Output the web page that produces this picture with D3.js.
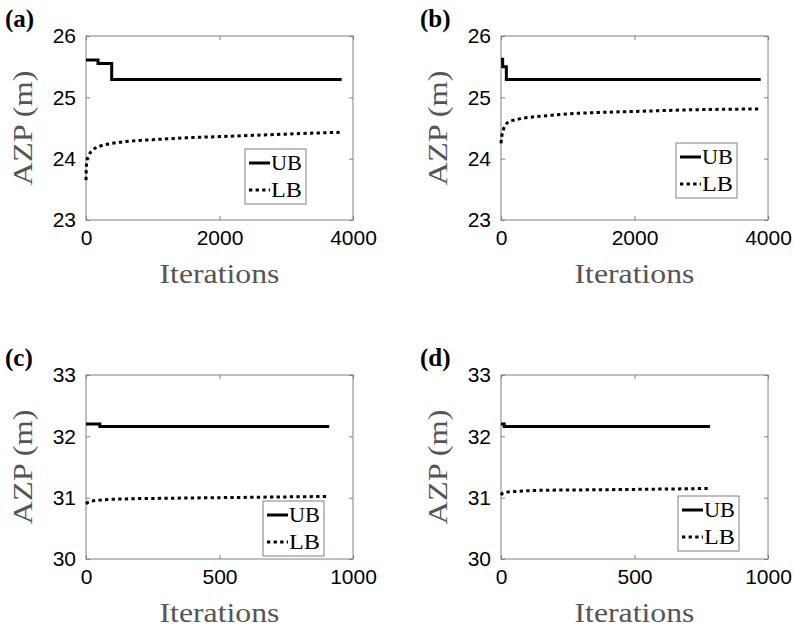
<!DOCTYPE html>
<html>
<head>
<meta charset="utf-8">
<script src="https://cdn.jsdelivr.net/npm/d3@7"></script>
<style>
  body { margin: 0; background: #fff; }
  svg { display: block; }
</style>
</head>
<body>
<div id="chart"></div>
<script>
// panel labels and axis ranges
var panelLabels = ["(a)", "(b)", "(c)", "(d)"];
var xDomains = [[0, 4000], [0, 4000], [0, 1000], [0, 1000]];
var yDomains = [[23, 26], [23, 26], [30, 33], [30, 33]];
var xTickValues = [[0, 2000, 4000], [0, 2000, 4000], [0, 500, 1000], [0, 500, 1000]];
var yTickValues = [[23, 24, 25, 26], [23, 24, 25, 26], [30, 31, 32, 33], [30, 31, 32, 33]];
var seriesNames = ["UB", "LB"];

// upper bound (step curves)
var ubIterA = [0, 180, 385, 3830];
var ubValA = [25.61, 25.55, 25.29, 25.29];
var ubIterB = [0, 25, 80, 3890];
var ubValB = [25.62, 25.5, 25.29, 25.29];
var ubIterC = [0, 52, 911];
var ubValC = [32.2, 32.16, 32.16];
var ubIterD = [0, 12, 783];
var ubValD = [32.2, 32.16, 32.16];

// lower bound
var lbIterA = [0, 10, 40, 90, 200, 400, 700, 1000, 1500, 2000, 2500, 3000, 3500, 3830];
var lbValA = [23.65, 23.95, 24.05, 24.13, 24.2, 24.25, 24.29, 24.31, 24.34, 24.36, 24.38, 24.4, 24.42, 24.43];
var lbIterB = [0, 10, 35, 70, 110, 200, 335, 685, 1000, 1400, 2000, 3000, 3890];
var lbValB = [24.25, 24.35, 24.47, 24.55, 24.6, 24.63, 24.66, 24.7, 24.73, 24.75, 24.77, 24.8, 24.81];
var lbIterC = [0, 10, 50, 150, 300, 500, 700, 911];
var lbValC = [30.9, 30.93, 30.96, 30.98, 30.99, 31.0, 31.01, 31.02];
var lbIterD = [0, 5, 20, 50, 150, 400, 783];
var lbValD = [31.04, 31.07, 31.09, 31.1, 31.12, 31.13, 31.15];

var ubIters = [ubIterA, ubIterB, ubIterC, ubIterD];
var ubVals = [ubValA, ubValB, ubValC, ubValD];
var lbIters = [lbIterA, lbIterB, lbIterC, lbIterD];
var lbVals = [lbValA, lbValB, lbValC, lbValD];

// layout
var svgWidth = 794, svgHeight = 628;
var plotW = 267, plotH = 184;
var panelLeft = [86, 501, 86, 501];
var panelTop = [36, 36, 375, 375];
var legendPos = [[159, 113], [175, 107], [177, 126], [177, 121]];

var axisColor = "#808080";
var labelColor = "#555";
var dotted = "3.3,3.3";

var svg = d3.select("#chart")
    .append("svg")
    .attr("width", svgWidth)
    .attr("height", svgHeight);

svg.append("rect").attr("width", svgWidth).attr("height", svgHeight).attr("fill", "#fff");

panelLabels.forEach(function(label, i) {
    var g = svg.append("g")
        .attr("transform", `translate(${panelLeft[i]}, ${panelTop[i]})`);

    var x = d3.scaleLinear().domain(xDomains[i]).range([0, plotW]);
    var y = d3.scaleLinear().domain(yDomains[i]).range([plotH, 0]);

    // box
    g.append("rect")
        .attr("width", plotW).attr("height", plotH)
        .attr("fill", "none").attr("stroke", axisColor).attr("stroke-width", 1);

    // ticks inward on all sides, labels on bottom/left
    var bottomAxis = d3.axisBottom(x).tickValues(xTickValues[i]).tickSize(-4).tickPadding(10).tickFormat(d3.format("d"));
    var topAxis = d3.axisTop(x).tickValues(xTickValues[i]).tickSize(-4).tickFormat("");
    var leftAxis = d3.axisLeft(y).tickValues(yTickValues[i]).tickSize(-4).tickPadding(10).tickFormat(d3.format("d"));
    var rightAxis = d3.axisRight(y).tickValues(yTickValues[i]).tickSize(-4).tickFormat("");

    var axes = [
        g.append("g").attr("transform", `translate(0, ${plotH})`).call(bottomAxis),
        g.append("g").call(topAxis),
        g.append("g").call(leftAxis),
        g.append("g").attr("transform", `translate(${plotW}, 0)`).call(rightAxis)
    ];
    axes.forEach(function(a) {
        a.select(".domain").remove();
        a.selectAll(".tick line").attr("stroke", axisColor);
        a.selectAll(".tick text")
            .attr("fill", "#000")
            .style("font-family", "'Liberation Sans', Arial, sans-serif")
            .style("font-size", "21px");
    });

    // lines
    var ubData = ubIters[i].map(function(it, k) { return [it, ubVals[i][k]]; });
    var lbData = lbIters[i].map(function(it, k) { return [it, lbVals[i][k]]; });

    var ubLine = d3.line().x(d => x(d[0])).y(d => y(d[1])).curve(d3.curveStepAfter);
    var lbLine = d3.line().x(d => x(d[0])).y(d => y(d[1])).curve(d3.curveMonotoneX);

    g.append("path").datum(ubData)
        .attr("d", ubLine)
        .attr("fill", "none").attr("stroke", "#000").attr("stroke-width", 3);

    g.append("path").datum(lbData)
        .attr("d", lbLine)
        .attr("fill", "none").attr("stroke", "#000").attr("stroke-width", 3)
        .attr("stroke-dasharray", dotted);

    // axis labels
    g.append("text")
        .attr("x", plotW / 2).attr("y", plotH + 63)
        .attr("text-anchor", "middle")
        .attr("fill", labelColor)
        .attr("textLength", 120).attr("lengthAdjust", "spacingAndGlyphs")
        .style("font-family", "'Liberation Serif', 'Times New Roman', serif")
        .style("font-size", "28px")
        .text("Iterations");

    g.append("text")
        .attr("transform", `translate(-54, ${plotH / 2}) rotate(-90)`)
        .attr("text-anchor", "middle")
        .attr("fill", labelColor)
        .attr("textLength", 115).attr("lengthAdjust", "spacingAndGlyphs")
        .style("font-family", "'Liberation Serif', 'Times New Roman', serif")
        .style("font-size", "28px")
        .text("AZP (m)");

    // panel letter
    g.append("text")
        .attr("x", -81).attr("y", -9)
        .attr("fill", "#000")
        .style("font-family", "'Liberation Serif', 'Times New Roman', serif")
        .style("font-size", "25px")
        .style("font-weight", "bold")
        .text(label);

    // legend
    var lg = g.append("g")
        .attr("transform", `translate(${legendPos[i][0]}, ${legendPos[i][1]})`);
    lg.append("rect")
        .attr("width", 61).attr("height", 55)
        .attr("fill", "#fff").attr("stroke", axisColor).attr("stroke-width", 1);
    seriesNames.forEach(function(name, k) {
        var ry = 14 + k * 27;
        lg.append("line")
            .attr("x1", 4).attr("x2", 25).attr("y1", ry).attr("y2", ry)
            .attr("stroke", "#000").attr("stroke-width", 3)
            .attr("stroke-dasharray", k === 1 ? dotted : null);
        lg.append("text")
            .attr("x", 26).attr("y", ry + 7)
            .attr("fill", "#000")
            .attr("textLength", 31).attr("lengthAdjust", "spacingAndGlyphs")
            .style("font-family", "'Liberation Serif', 'Times New Roman', serif")
            .style("font-size", "20px")
            .text(name);
    });
});
</script>
</body>
</html>
